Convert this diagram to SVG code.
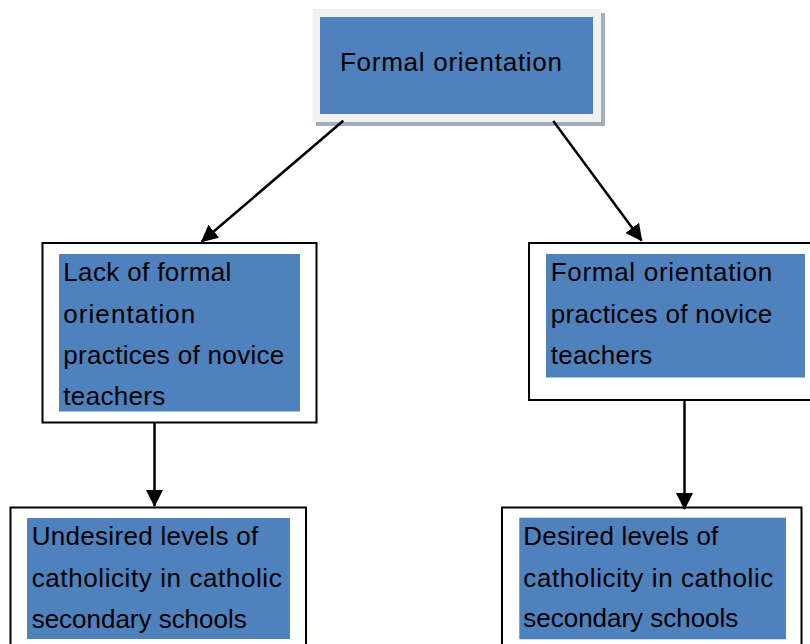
<svg xmlns="http://www.w3.org/2000/svg" width="810" height="644" viewBox="0 0 810 644">
<style>
.frame{fill:#ffffff;stroke:#000000;stroke-width:2}
.blue{fill:#4F81BD}
.t{font-family:"Liberation Sans",Arial,sans-serif;font-size:26px;fill:#000000}
.conn{stroke:#000000;stroke-width:2.5;fill:none;marker-end:url(#ah)}
</style>
<defs>
<marker id="ah" markerUnits="userSpaceOnUse" markerWidth="17" markerHeight="17" viewBox="0 0 17 17" refX="16" refY="8.5" orient="auto">
<path d="M0,0 L17,8.5 L0,17 z" fill="#000000"/>
</marker>
</defs>
<rect width="810" height="644" fill="#ffffff"/>
<g id="node-top">
<rect x="316" y="13" width="289" height="113" fill="#A3ADBE"/>
<rect x="312.5" y="9" width="288.5" height="113" fill="#F1F1F1"/>
<rect x="320" y="17" width="273" height="97" class="blue"/>
<text class="t" x="340" y="71" textLength="222">Formal orientation</text>
</g>
<g id="node-lack">
<rect x="42.5" y="243" width="274" height="179.5" class="frame"/>
<rect x="59" y="254" width="241" height="157.5" class="blue"/>
<text class="t" x="63.3" y="281" textLength="168">Lack of formal</text>
<text class="t" x="63.3" y="322.5" textLength="132">orientation</text>
<text class="t" x="63.3" y="363.5" textLength="221">practices of novice</text>
<text class="t" x="63.3" y="405" textLength="102">teachers</text>
</g>
<g id="node-formal">
<rect x="529" y="243" width="285" height="157" class="frame"/>
<rect x="546" y="254" width="259" height="123.5" class="blue"/>
<text class="t" x="550.7" y="281" textLength="221.5">Formal orientation</text>
<text class="t" x="550.7" y="322.5" textLength="221.5">practices of novice</text>
<text class="t" x="550.7" y="363.5" textLength="101.5">teachers</text>
</g>
<g id="node-undesired">
<rect x="10.5" y="507.5" width="295.5" height="145" class="frame"/>
<rect x="27" y="518" width="263" height="121" class="blue"/>
<text class="t" x="31.7" y="545" textLength="226.5">Undesired levels of</text>
<text class="t" x="31.7" y="586.5" textLength="250">catholicity in catholic</text>
<text class="t" x="31.7" y="627.5" textLength="215">secondary schools</text>
</g>
<g id="node-desired">
<rect x="502" y="507.5" width="299.5" height="145" class="frame"/>
<rect x="519.3" y="517.7" width="266.7" height="121.6" class="blue"/>
<text class="t" x="523.3" y="545" textLength="195">Desired levels of</text>
<text class="t" x="523.3" y="586.5" textLength="250">catholicity in catholic</text>
<text class="t" x="523.3" y="627" textLength="215">secondary schools</text>
</g>
<g id="connectors">
<line class="conn" x1="343.3" y1="120.7" x2="201.7" y2="241.7"/>
<line class="conn" x1="553.3" y1="121" x2="641.7" y2="240.7"/>
<line class="conn" x1="154.5" y1="423" x2="154.5" y2="506"/>
<line class="conn" x1="684.5" y1="400" x2="684.5" y2="509"/>
</g>
</svg>
